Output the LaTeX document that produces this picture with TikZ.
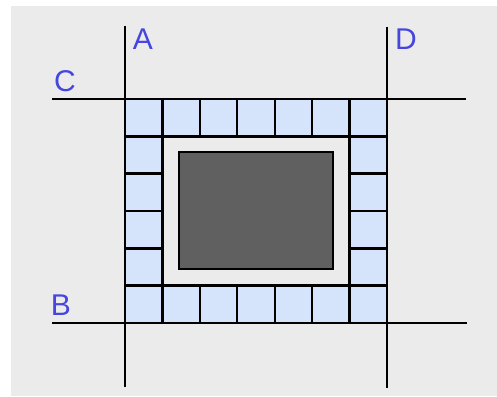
\documentclass[tikz,border=0pt]{standalone}
\usepackage{fontspec}
\setmainfont{Liberation Sans}
\usetikzlibrary{positioning}
\definecolor{tileblue}{HTML}{D5E3FB}
\definecolor{bggray}{HTML}{EBEBEB}
\definecolor{slab}{HTML}{606060}
\definecolor{labelblue}{HTML}{4545E0}

\begin{document}
\begin{tikzpicture}[x=1pt,y=-1pt,line width=2.4pt]
\tikzset{tile/.style={draw,fill=tileblue},
  lbl/.style={text=labelblue,inner sep=0pt,font=\fontsize{30}{36}\selectfont}}
% frame
\useasboundingbox (0,0) rectangle (497,396);
\fill[white] (0,0) rectangle (497,396);
\fill[bggray] (11,6) rectangle (497,396);
% tiles round the slab
\foreach \i in {0,...,6}{
\draw[tile] ({125+\i*262/7},99) rectangle ++(262/7,224/6);
\draw[tile] ({125+\i*262/7},{323-224/6}) rectangle ++(262/7,224/6);}
\foreach \j in {1,...,4}{
\draw[tile] (125,{99+\j*224/6}) rectangle ++(262/7,224/6);
\draw[tile] ({387-262/7},{99+\j*224/6}) rectangle ++(262/7,224/6);}
% slab
\draw[fill=slab] (179,152) rectangle (333,269);
% grid lines
\coordinate (a1) at (125,26); \coordinate (a2) at (125,387);
\coordinate (d1) at (387,27); \coordinate (d2) at (387,388);
\coordinate (c1) at (52,99);  \coordinate (c2) at (466,99);
\coordinate (b1) at (52,323); \coordinate (b2) at (467,323);
\draw (a1)--(a2);
\draw (d1)--(d2);
\draw (c1)--(c2);
\draw (b1)--(b2);
\node[lbl] (A) at (143,39) {A};
\node[lbl] (D) at (406,39) {D};
\node[lbl] (C) at (65,81) {C};
\node[lbl] (B) at (61,305) {B};
\end{tikzpicture}
\end{document}
